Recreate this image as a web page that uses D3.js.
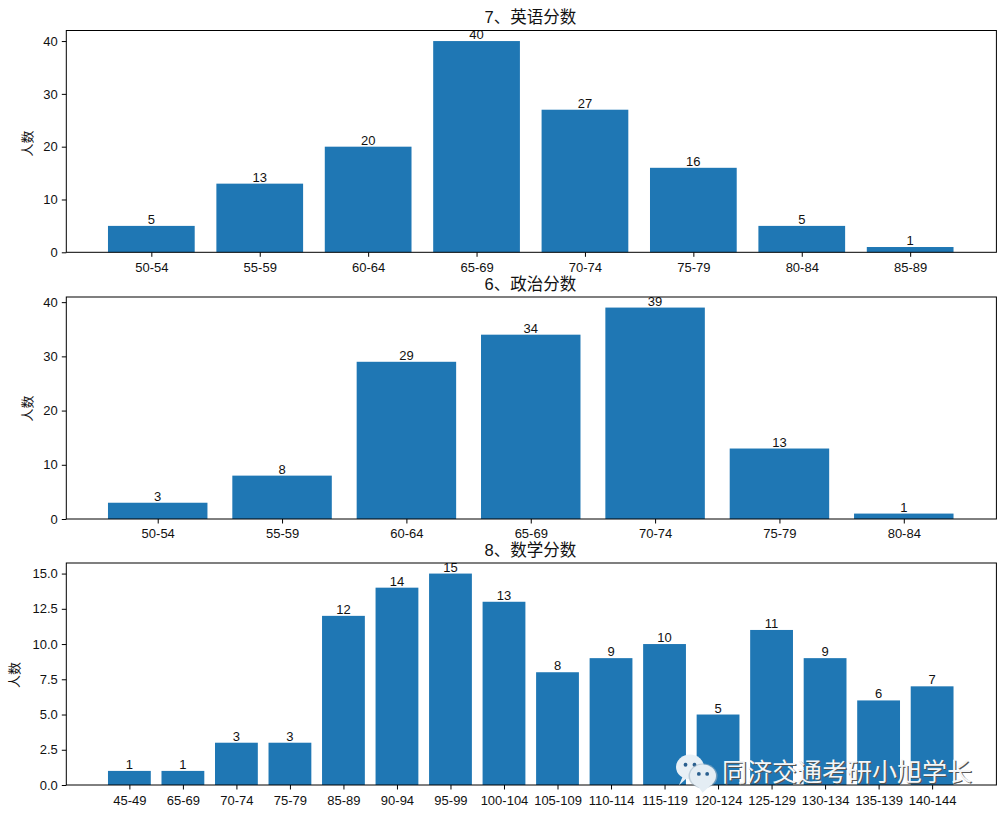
<!DOCTYPE html>
<html><head><meta charset="utf-8">
<script src="https://cdn.jsdelivr.net/npm/d3@7/dist/d3.min.js"></script>
<style>html,body{margin:0;padding:0;background:#fff}svg{display:block}
text{font-family:"Liberation Sans","Noto Sans CJK SC",sans-serif;fill:#111}</style></head>
<body><svg id="c" width="1005" height="817"></svg>
<script>
const englishLabels=["50-54","55-59","60-64","65-69","70-74","75-79","80-84","85-89"];
const englishValues=[5,13,20,40,27,16,5,1];
const politicsLabels=["50-54","55-59","60-64","65-69","70-74","75-79","80-84"];
const politicsValues=[3,8,29,34,39,13,1];
const mathLabels=["45-49","65-69","70-74","75-79","85-89","90-94","95-99","100-104","105-109","110-114","115-119","120-124","125-129","130-134","135-139","140-144"];
const mathValues=[1,1,3,3,12,14,15,13,8,9,10,5,11,9,6,7];
const englishTicks=[0,10,20,30,40];
const politicsTicks=[0,10,20,30,40];
const mathTicks=[0,2.5,5,7.5,10,12.5,15];
const svg=d3.select("#c");
function panel(title,labels,values,ticks,fmt,top,bottom,left,ymax,titleY,ylabelX,ylabelDy,tickY){
  const right=996.4;
  const g=svg.append("g");
  const n=labels.length;
  const x=d3.scaleLinear().domain([-0.4-0.05*(n-1+0.8),n-1+0.4+0.05*(n-1+0.8)]).range([left-0.6,right-0.6]);
  const y=d3.scaleLinear().domain([0,ymax]).range([bottom,top]);
  g.selectAll("rect").data(values).join("rect")
    .attr("x",(d,i)=>x(i-0.4)).attr("width",(d,i)=>x(i+0.4)-x(i-0.4))
    .attr("y",d=>y(d)).attr("height",d=>bottom-y(d)).attr("fill","#1f77b4");
  g.selectAll("text.v").data(values).join("text").attr("class","v")
    .attr("x",(d,i)=>x(i)).attr("y",d=>y(d)-2).attr("text-anchor","middle")
    .attr("font-size",13).text(d=>d);
  const ax=d3.axisBottom(x).tickValues(d3.range(n)).tickFormat(i=>labels[i]).tickSize(4.5);
  const a=g.append("g").attr("transform",`translate(0,${bottom})`).call(ax);
  a.select(".domain").remove();
  a.selectAll("text").attr("font-size",13).attr("fill","#111").attr("font-family",null).attr("dy",null).attr("y",tickY);
  a.selectAll("line").attr("stroke","#000").attr("stroke-width",1);
  const ay=d3.axisLeft(y).tickValues(ticks).tickFormat(fmt).tickSize(4.5).tickPadding(4);
  const b=g.append("g").attr("transform",`translate(${left},0)`).call(ay);
  b.select(".domain").remove();
  b.selectAll("text").attr("font-size",13).attr("fill","#111").attr("font-family",null);
  b.selectAll("line").attr("stroke","#000").attr("stroke-width",1);
  g.append("rect").attr("x",left).attr("y",top).attr("width",right-left).attr("height",bottom-top)
    .attr("fill","none").attr("stroke","#000").attr("stroke-width",1);
  g.append("text").attr("x",(left+right)/2-1).attr("y",titleY).attr("text-anchor","middle").attr("font-size",16.5).text(title);
  g.append("text").attr("transform",`translate(${ylabelX},${(top+bottom)/2+ylabelDy}) rotate(-90)`).attr("text-anchor","middle").attr("font-size",13).text("人数");
}
const f0=d=>d3.format("d")(d), f1=d=>d3.format(".1f")(d);
panel("7、英语分数",englishLabels,englishValues,englishTicks,f0,30.5,252.3,66.3,42,23,32,2,20);
panel("6、政治分数",politicsLabels,politicsValues,politicsTicks,f0,297,519,66.3,40.95,290,32,0.5,19.3);
panel("8、数学分数",mathLabels,mathValues,mathTicks,f1,563,785,66.3,15.75,556,19,1,20);
// watermark
const wm=svg.append("g").attr("class","watermark");
function bubble(cx,cy,rx,ry,tail,fill){
  wm.append("path").attr("d",`M${cx-rx*0.5},${cy+ry*0.7} l${tail},${ry*0.75} l${rx*0.55},${-ry*0.55} Z`).attr("fill",fill);
  wm.append("ellipse").attr("cx",cx).attr("cy",cy).attr("rx",rx).attr("ry",ry).attr("fill",fill);
  [-0.32,0.32].forEach(k=>wm.append("circle").attr("cx",cx+k*rx).attr("cy",cy-ry*0.18).attr("r",1.9).attr("fill","#2a5f8f"));
}
bubble(690,767,14,12.5,-4,"#e8f0f6");
wm.append("ellipse").attr("cx",703).attr("cy",776).attr("rx",14.5).attr("ry",12.5).attr("fill","#9fb4c4").attr("opacity",0.6);
bubble(703,776,13,11.5,6,"#e4edf4");
const wmt="同济交通考研小旭学长";
wm.append("text").attr("x",723.2).attr("y",782).attr("font-size",25).style("fill","#555").text(wmt);
wm.append("text").attr("x",722).attr("y",781).attr("font-size",25).style("fill","#f4f6f8").text(wmt);
</script></body></html>
